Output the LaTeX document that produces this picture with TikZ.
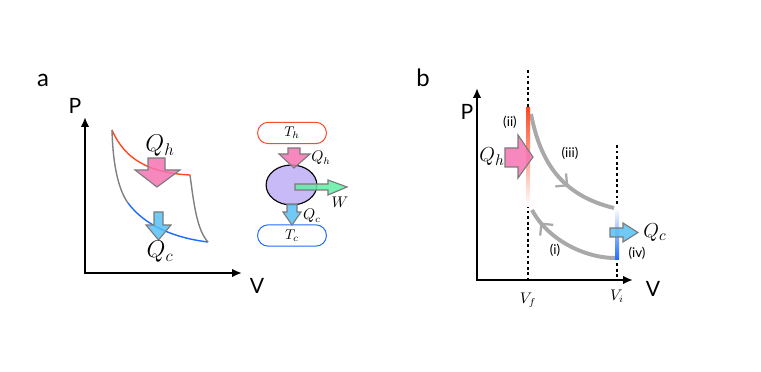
\documentclass[tikz,border=0pt]{standalone}
\usepackage{fontspec}
\newfontfamily\lblfont{Lato}
\usetikzlibrary{arrows.meta,decorations.markings,shapes.geometric}
\definecolor{hotred}{HTML}{FF4A24}
\definecolor{coldblue}{HTML}{1F6BFF}
\definecolor{pinkfill}{HTML}{F573B3}
\definecolor{bluefill}{HTML}{58BFF4}
\definecolor{greenfill}{HTML}{5FF0A6}
\definecolor{engfill}{HTML}{C8B9F7}
\definecolor{cycgray}{HTML}{A9A9A9}
\definecolor{edgegray}{HTML}{7A7A7A}
\tikzset{
  axes/.style={line width=1.4pt,{Latex[length=7pt,width=6pt]}-{Latex[length=7pt,width=6pt]}},
  panel/.style={font=\lblfont\fontsize{17}{17}\selectfont},
  axlabel/.style={font=\lblfont\fontsize{15}{15}\selectfont},
  steplabel/.style={font=\lblfont\fontsize{9.5}{9.5}\selectfont},
  qbig/.style={font=\fontsize{17}{17}\selectfont},
  qmid/.style={font=\fontsize{15}{15}\selectfont},
  qsmall/.style={font=\fontsize{10.5}{10.5}\selectfont},
  heatarrow/.style={draw=edgegray,line width=0.8pt,fill opacity=0.85},
  reservoir/.style={draw,line width=0.7pt,rounded corners=0.26cm,minimum width=1.72cm,minimum height=0.53cm,inner sep=0pt,font=\fontsize{10}{10}\selectfont},
  cyc/.style={cycgray,line width=2.8pt},
  midarrow/.style={postaction={decorate},decoration={markings,mark=at position #1 with {\arrow[cycgray,line width=1.6pt]{Straight Barb[length=6pt,width=12pt]}}}}
}
\begin{document}
\begin{tikzpicture}[x=0.025cm,y=-0.025cm]
\useasboundingbox (0,0) rectangle (761,372);
% panel a: Carnot cycle
\node[panel] (la) at (43,80) {a};
\draw[axes] (85,117) -- (85,273) -- (242,273);
\node[axlabel] (pa) at (75,106) {P};
\node[axlabel] (va) at (257,286) {V};
\draw[hotred,line width=1pt] (112,130) .. controls (125,160) and (150,173) .. (190,175);
\draw[coldblue,line width=1pt] (128,203) .. controls (145,226) and (175,238) .. (208,242);
\draw[gray,line width=1pt] (112,130) .. controls (113,170) and (120,192) .. (128,203);
\draw[gray,line width=1pt] (190,175) .. controls (194,205) and (197,230) .. (208,242);
\draw[heatarrow,fill=pinkfill] (148,158) -- (165,158) -- (165,170) -- (180,170) -- (157,187) -- (135,170) -- (148,170) -- cycle;
\node[qbig] (qha) at (160,146) {$Q_h$};
\draw[heatarrow,fill=bluefill] (154,212) -- (163,212) -- (163,225) -- (171,225) -- (158.5,240) -- (146,225) -- (154,225) -- cycle;
\node[qbig] (qca) at (160,252) {$Q_c$};
% engine
\node[reservoir,draw=hotred] (th) at (292,133) {$T_h$};
\node[reservoir,draw=coldblue] (tc) at (292,235.5) {$T_c$};
\node[ellipse,draw,fill=engfill,line width=0.8pt,minimum width=1.27cm,minimum height=1cm,inner sep=0pt] (eng) at (291.5,185) {};
\draw[heatarrow,fill=pinkfill] (288,148) -- (300,148) -- (300,154) -- (310,154) -- (294,168) -- (279,154) -- (288,154) -- cycle;
\node[qsmall] (qhe) at (321,158) {$Q_h$};
\draw[heatarrow,fill=greenfill] (295,184) -- (328,184) -- (328,180) -- (347,187) -- (328,195) -- (328,190) -- (295,190) -- cycle;
\node[qsmall] (we) at (340,202) {$W$};
\draw[heatarrow,fill=bluefill] (287,204) -- (297,204) -- (297,212) -- (301,212) -- (292,225) -- (283,212) -- (287,212) -- cycle;
\node[qsmall] (qce) at (312,216) {$Q_c$};
% panel b: isochoric cycle
\node[panel] (lb) at (423,78) {b};
\draw[dashed,line width=0.8pt,dash pattern=on 2pt off 2pt] (528,70) -- (528,280);
\draw[dashed,line width=0.8pt,dash pattern=on 2pt off 2pt] (617,145) -- (617,280);
\draw[axes] (477,88) -- (477,280) -- (633,280);
\node[axlabel] (pb) at (467,112) {P};
\node[axlabel] (vb) at (653,289) {V};
\node[qsmall] (vf) at (528,300) {$V_f$};
\node[qsmall] (vi) at (617,296) {$V_i$};
\draw[cyc,midarrow=0.62] (531,114) .. controls (540,160) and (560,195) .. (614,208);
\draw[cyc,midarrow=0.85] (615,258) .. controls (585,258) and (548,240) .. (532,210);
\shade[top color=hotred,bottom color=white] (526,108) rectangle (530,207);
\shade[top color=white,bottom color=coldblue] (615,208) rectangle (619,260);
\draw[heatarrow,fill=pinkfill] (505,148) -- (518,148) -- (518,135) -- (533,157) -- (518,178) -- (518,167) -- (505,167) -- cycle;
\node[qmid] (qhb) at (492,157) {$Q_h$};
\draw[heatarrow,fill=bluefill] (610,228) -- (623,228) -- (623,223) -- (638,232.5) -- (623,242) -- (623,237) -- (610,237) -- cycle;
\node[qmid] (qcb) at (655,233) {$Q_c$};
\node[steplabel] (s2) at (510,122) {(ii)};
\node[steplabel] (s3) at (570,153) {(iii)};
\node[steplabel] (s1) at (555,250) {(i)};
\node[steplabel] (s4) at (637,253) {(iv)};
\end{tikzpicture}
\end{document}
